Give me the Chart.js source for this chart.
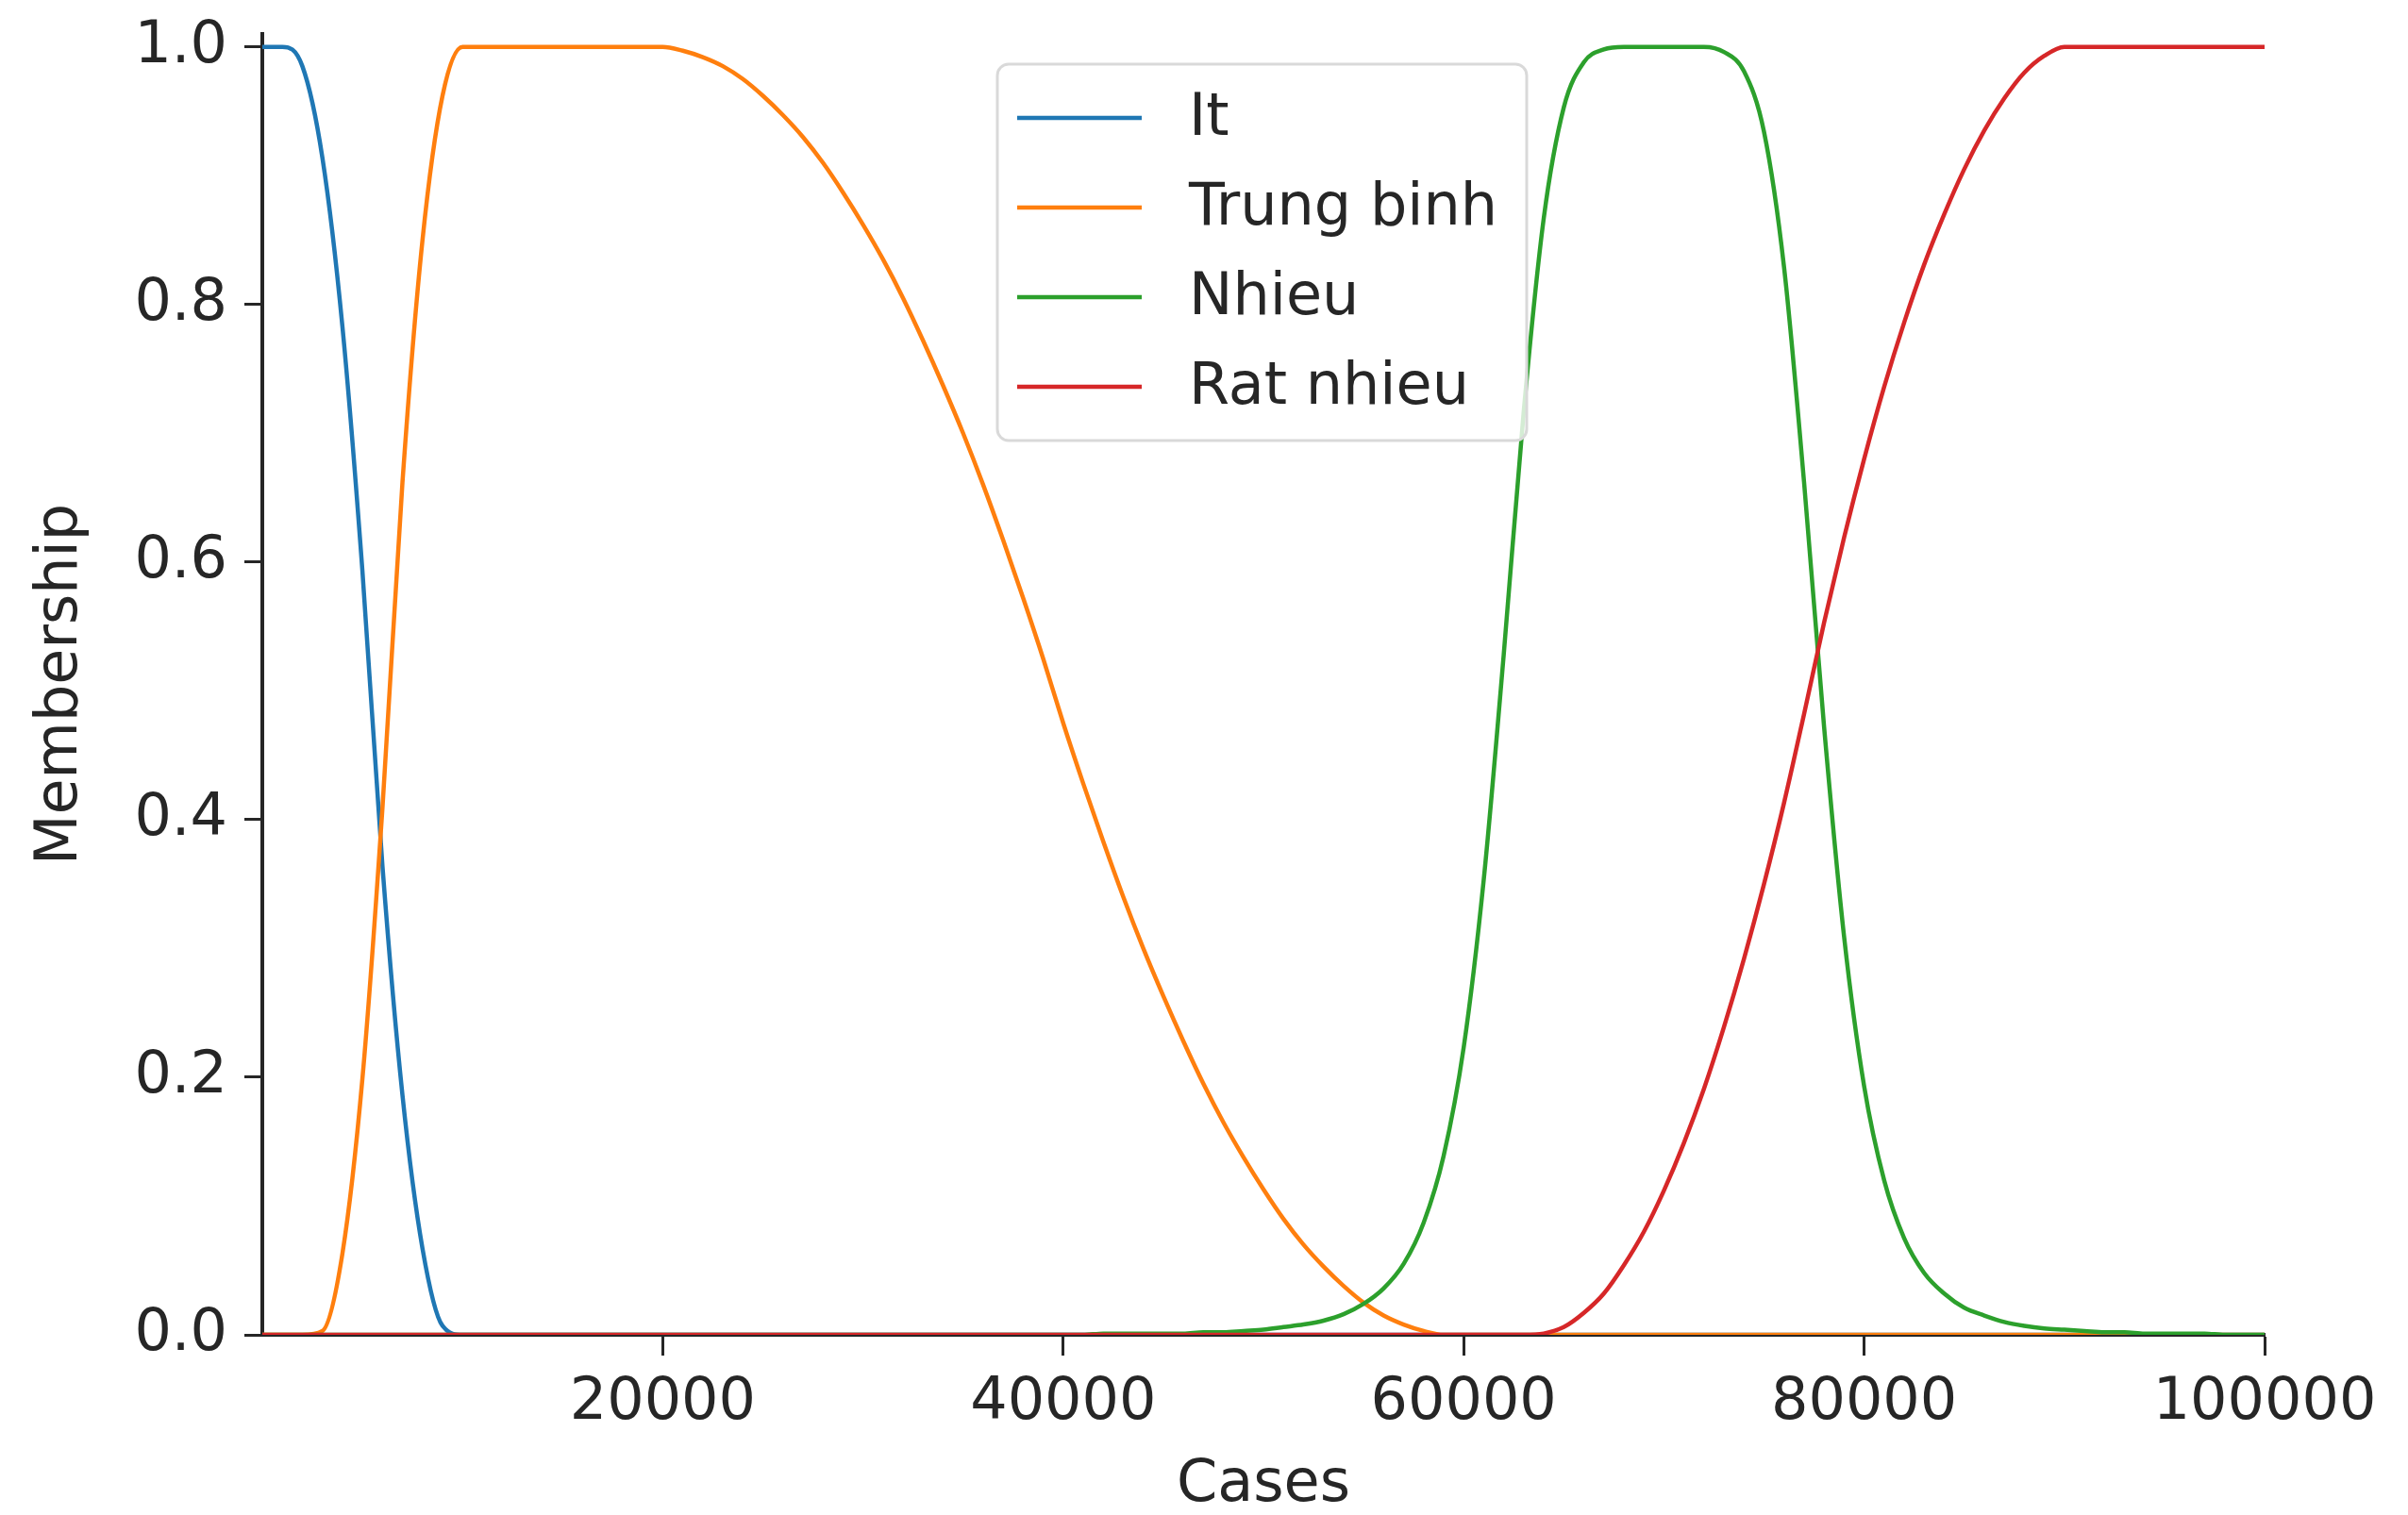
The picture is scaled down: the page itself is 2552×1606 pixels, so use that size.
<!DOCTYPE html>
<html lang="vi">
<head>
<meta charset="utf-8">
<title>Membership - Cases</title>
<script src="https://cdn.jsdelivr.net/npm/chart.js@4.4.1/dist/chart.umd.min.js"></script>
<style>
  html, body { margin: 0; padding: 0; background: #ffffff; }
  #contenedor { position: relative; width: 2552px; height: 1606px; }
</style>
</head>
<body>
<div id="contenedor"><canvas id="grafico"></canvas></div>
<script>
// Universo de casos (eje X), muestreado cada 1000
const casos = [
  0, 1000, 2000, 3000, 4000, 5000, 6000, 7000, 8000, 9000,
  10000, 11000, 12000, 13000, 14000, 15000, 16000, 17000, 18000, 19000,
  20000, 21000, 22000, 23000, 24000, 25000, 26000, 27000, 28000, 29000,
  30000, 31000, 32000, 33000, 34000, 35000, 36000, 37000, 38000, 39000,
  40000, 41000, 42000, 43000, 44000, 45000, 46000, 47000, 48000, 49000,
  50000, 51000, 52000, 53000, 54000, 55000, 56000, 57000, 58000, 59000,
  60000, 61000, 62000, 63000, 64000, 65000, 66000, 67000, 68000, 69000,
  70000, 71000, 72000, 73000, 74000, 75000, 76000, 77000, 78000, 79000,
  80000, 81000, 82000, 83000, 84000, 85000, 86000, 87000, 88000, 89000,
  90000, 91000, 92000, 93000, 94000, 95000, 96000, 97000, 98000, 99000,
  100000
];

// Grado de pertenencia de cada conjunto difuso, un valor por caso
const gradoIt = [
  1, 1, 0.985, 0.914, 0.783, 0.593, 0.364, 0.186, 0.067, 0.007,
  0, 0, 0, 0, 0, 0, 0, 0, 0, 0,
  0, 0, 0, 0, 0, 0, 0, 0, 0, 0,
  0, 0, 0, 0, 0, 0, 0, 0, 0, 0,
  0, 0, 0, 0, 0, 0, 0, 0, 0, 0,
  0, 0, 0, 0, 0, 0, 0, 0, 0, 0,
  0, 0, 0, 0, 0, 0, 0, 0, 0, 0,
  0, 0, 0, 0, 0, 0, 0, 0, 0, 0,
  0, 0, 0, 0, 0, 0, 0, 0, 0, 0,
  0, 0, 0, 0, 0, 0, 0, 0, 0, 0,
  0
];

const gradoTrungBinh = [
  0, 0, 0, 0.003, 0.063, 0.199, 0.409, 0.662, 0.850, 0.962,
  1, 1, 1, 1, 1, 1, 1, 1, 1, 1,
  1, 0.997, 0.992, 0.985, 0.975, 0.962, 0.947, 0.930, 0.910, 0.887,
  0.862, 0.835, 0.805, 0.772, 0.737, 0.700, 0.660, 0.617, 0.572, 0.525,
  0.475, 0.428, 0.383, 0.340, 0.300, 0.263, 0.228, 0.195, 0.165, 0.138,
  0.113, 0.090, 0.070, 0.053, 0.038, 0.025, 0.015, 0.008, 0.003, 0,
  0, 0, 0, 0, 0, 0, 0, 0, 0, 0,
  0, 0, 0, 0, 0, 0, 0, 0, 0, 0,
  0, 0, 0, 0, 0, 0, 0, 0, 0, 0,
  0, 0, 0, 0, 0, 0, 0, 0, 0, 0,
  0
];

const gradoNhieu = [
  0, 0, 0, 0, 0, 0, 0, 0, 0, 0,
  0, 0, 0, 0, 0, 0, 0, 0, 0, 0,
  0, 0, 0, 0, 0, 0, 0, 0, 0, 0,
  0, 0, 0, 0, 0, 0, 0, 0, 0, 0,
  0, 0, 0.001, 0.001, 0.001, 0.001, 0.001, 0.002, 0.002, 0.003,
  0.004, 0.006, 0.008, 0.011, 0.016, 0.024, 0.036, 0.055, 0.087, 0.139,
  0.223, 0.353, 0.528, 0.717, 0.867, 0.953, 0.988, 0.998, 1, 1,
  1, 1, 1, 0.996, 0.981, 0.934, 0.829, 0.662, 0.472, 0.309,
  0.193, 0.120, 0.075, 0.048, 0.032, 0.021, 0.015, 0.010, 0.007, 0.005,
  0.004, 0.003, 0.002, 0.002, 0.001, 0.001, 0.001, 0.001, 0, 0,
  0
];

const gradoRatNhieu = [
  0, 0, 0, 0, 0, 0, 0, 0, 0, 0,
  0, 0, 0, 0, 0, 0, 0, 0, 0, 0,
  0, 0, 0, 0, 0, 0, 0, 0, 0, 0,
  0, 0, 0, 0, 0, 0, 0, 0, 0, 0,
  0, 0, 0, 0, 0, 0, 0, 0, 0, 0,
  0, 0, 0, 0, 0, 0, 0, 0, 0, 0,
  0, 0, 0, 0, 0.001, 0.006, 0.017, 0.032, 0.054, 0.080,
  0.112, 0.149, 0.191, 0.239, 0.292, 0.350, 0.413, 0.482, 0.553, 0.619,
  0.680, 0.736, 0.786, 0.831, 0.870, 0.905, 0.935, 0.960, 0.980, 0.993,
  1, 1, 1, 1, 1, 1, 1, 1, 1, 1,
  1
];

const nombresConjuntos = ['It', 'Trung binh', 'Nhieu', 'Rat nhieu'];
const ticksX = [20000, 40000, 60000, 80000, 100000];
const ticksY = [0, 0.2, 0.4, 0.6, 0.8, 1.0];

// Estilo (paleta por defecto de matplotlib)
const coloresConjuntos = ['#1f77b4', '#ff7f0e', '#2ca02c', '#d62728'];
const FUENTE = 'DejaVu Sans';
const colorEjes = '#262626';
const tamTexto = 62;

Chart.defaults.font.family = FUENTE;

function armarPuntos(valores) {
  return casos.map((x, i) => ({ x: x, y: valores[i] }));
}

// Leyenda propia dentro del área de trazado, con marco redondeado
const leyendaInterna = {
  id: 'leyendaInterna',
  afterDatasetsDraw(chart) {
    const ctx = chart.ctx;
    const area = chart.chartArea;
    const x0 = area.left + 779;
    const y0 = area.top + 32;
    const ancho = 561;
    const alto = 399;

    ctx.save();
    ctx.beginPath();
    ctx.roundRect(x0, y0, ancho, alto, 12);
    ctx.fillStyle = 'rgba(255, 255, 255, 0.8)';
    ctx.fill();
    ctx.lineWidth = 3;
    ctx.strokeStyle = '#d9d9d9';
    ctx.stroke();

    ctx.font = `${tamTexto}px "${FUENTE}"`;
    ctx.textBaseline = 'middle';
    ctx.textAlign = 'left';
    for (let i = 0; i < chart.data.datasets.length; i++) {
      const ds = chart.data.datasets[i];
      const y = y0 + 57 + i * 95;
      ctx.beginPath();
      ctx.moveTo(x0 + 21, y);
      ctx.lineTo(x0 + 153, y);
      ctx.strokeStyle = ds.borderColor;
      ctx.lineWidth = 4.5;
      ctx.stroke();
      ctx.fillStyle = colorEjes;
      ctx.fillText(ds.label, x0 + 203, y + 2);
    }
    ctx.restore();
  }
};

// Quita el margen extra que Chart.js reserva para las etiquetas de los extremos
function fijarMargenes(escala) {
  escala.paddingTop = 0;
  escala.paddingBottom = 0;
  escala.paddingLeft = 0;
  escala.paddingRight = 0;
}

const series = [gradoIt, gradoTrungBinh, gradoNhieu, gradoRatNhieu];
const datasets = series.map((valores, i) => ({
  label: nombresConjuntos[i],
  data: armarPuntos(valores),
  borderColor: coloresConjuntos[i],
  borderWidth: 4.5,
  pointRadius: 0,
  fill: false,
  cubicInterpolationMode: 'monotone',
  // la última serie queda encima, como en matplotlib
  order: series.length - 1 - i
}));

new Chart(document.getElementById('grafico'), {
  type: 'line',
  data: { datasets: datasets },
  plugins: [leyendaInterna],
  options: {
    responsive: true,
    maintainAspectRatio: false,
    devicePixelRatio: 1,
    animation: false,
    events: [],
    layout: { padding: { left: 0, top: 36, right: 152, bottom: 0 } },
    plugins: {
      legend: { display: false },
      tooltip: { enabled: false }
    },
    scales: {
      x: {
        type: 'linear',
        min: 0,
        max: 100000,
        afterBuildTicks: (escala) => { escala.ticks = ticksX.map(v => ({ value: v })); },
        afterFit: (escala) => { escala.height = 191; fijarMargenes(escala); },
        ticks: {
          autoSkip: false,
          maxRotation: 0,
          padding: 14,
          color: colorEjes,
          font: { family: FUENTE, size: tamTexto, lineHeight: 1.2 },
          callback: (v) => String(v)
        },
        grid: {
          display: true,
          drawOnChartArea: false,
          drawTicks: true,
          tickLength: 22,
          tickWidth: 3,
          tickColor: colorEjes
        },
        border: { display: true, color: colorEjes, width: 4 },
        title: {
          display: true,
          text: 'Cases',
          color: colorEjes,
          font: { family: FUENTE, size: tamTexto, lineHeight: 1 },
          padding: { top: 0, bottom: 0 }
        }
      },
      y: {
        type: 'linear',
        min: 0,
        max: 1.01,
        afterBuildTicks: (escala) => { escala.ticks = ticksY.map(v => ({ value: v })); },
        afterFit: (escala) => { escala.width = 278; fijarMargenes(escala); },
        ticks: {
          padding: 18,
          color: colorEjes,
          font: { family: FUENTE, size: tamTexto, lineHeight: 1 },
          callback: (v) => Number(v).toFixed(1)
        },
        grid: {
          display: true,
          drawOnChartArea: false,
          drawTicks: true,
          tickLength: 19,
          tickWidth: 3,
          tickColor: colorEjes
        },
        border: { display: true, color: colorEjes, width: 4 },
        title: {
          display: true,
          text: 'Membership',
          color: colorEjes,
          font: { family: FUENTE, size: tamTexto, lineHeight: 1 },
          padding: { top: 34, bottom: 0 }
        }
      }
    }
  }
});
</script>
</body>
</html>
